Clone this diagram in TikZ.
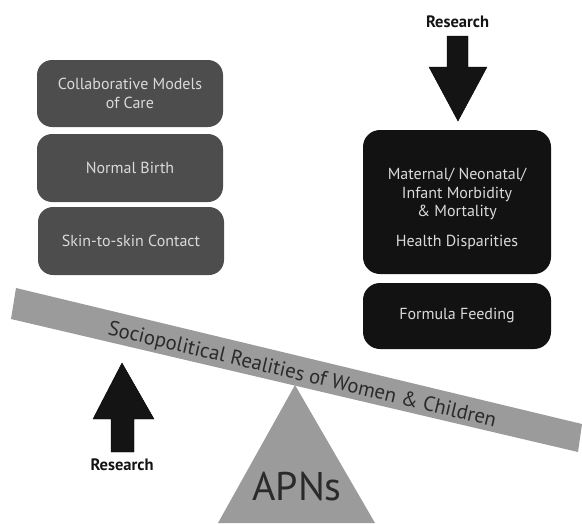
\documentclass[tikz,border=0pt]{standalone}
\usepackage{fontspec}
\setmainfont{PT Sans}
\definecolor{leftbox}{HTML}{4D4D4D}
\definecolor{rightbox}{HTML}{121212}
\definecolor{boxtext}{HTML}{DADADA}
\definecolor{beamgray}{HTML}{9B9B9B}
\definecolor{darktext}{HTML}{2A2A2A}
\definecolor{arrowblk}{HTML}{141414}
\tikzset{
  lbox/.style={fill=leftbox, rounded corners=15pt, minimum width=186pt, inner sep=0pt,
    text=boxtext, align=center, font=\fontsize{16}{19}\selectfont},
  rbox/.style={fill=rightbox, rounded corners=17pt, minimum width=188pt, inner sep=0pt,
    text=boxtext, align=center, font=\fontsize{16}{19}\selectfont},
  reslabel/.style={font=\bfseries\fontsize{16.5}{18}\selectfont, text=arrowblk},
  bigarrow/.style={fill=arrowblk},
  beamshape/.style={fill=beamgray},
}
\begin{document}
\begin{tikzpicture}[x=1pt,y=-1pt]
\useasboundingbox (0,0) rectangle (582,523);
% left boxes
\node[lbox, minimum height=67pt] (collab) at (130,93.5) {Collaborative Models\\of Care};
\node[lbox, minimum height=68pt] (birth) at (130,168) {Normal Birth};
\node[lbox, minimum height=68pt] (skin) at (131,241) {Skin-to-skin Contact};
% right boxes
\node[rbox, minimum height=144pt] (morb) at (457,202) {};
\node[text=boxtext, align=center, font=\fontsize{16}{18.7}\selectfont] (morbtext) at (457,194) {Maternal/ Neonatal/\\Infant Morbidity\\\& Mortality};
\node[text=boxtext, font=\fontsize{16}{18.7}\selectfont, anchor=base] (disp) at (457,246) {Health Disparities};
\node[rbox, minimum height=66pt] (formula) at (457,316) {Formula Feeding};
% top research arrow
\node[reslabel] (restop) at (457.5,22) {Research};
\draw[bigarrow] (447,36) -- (468,36) -- (468,67) -- (487,67) -- (458,121) -- (429,67) -- (447,67) -- cycle;
% triangle fulcrum
\fill[beamshape] (295,385) -- (375,523) -- (218,523) -- cycle;
\node[font=\fontsize{40}{44}\selectfont, text=darktext] (apns) at (297,487) {APNs};
% beam
\fill[beamshape] (16,288) -- (582,424) -- (578,452) -- (11,319) -- cycle;
\node[rotate=-13.4, font=\fontsize{20.7}{24}\selectfont, text=darktext, inner sep=0pt] (beamtext) at (302,375.5) {Sociopolitical Realities of Women \& Children};
% bottom research arrow
\draw[bigarrow] (122,363) -- (154,419) -- (134,419) -- (134,452) -- (111,452) -- (111,419) -- (93,419) -- cycle;
\node[reslabel] (resbot) at (122,465) {Research};
\end{tikzpicture}
\end{document}
